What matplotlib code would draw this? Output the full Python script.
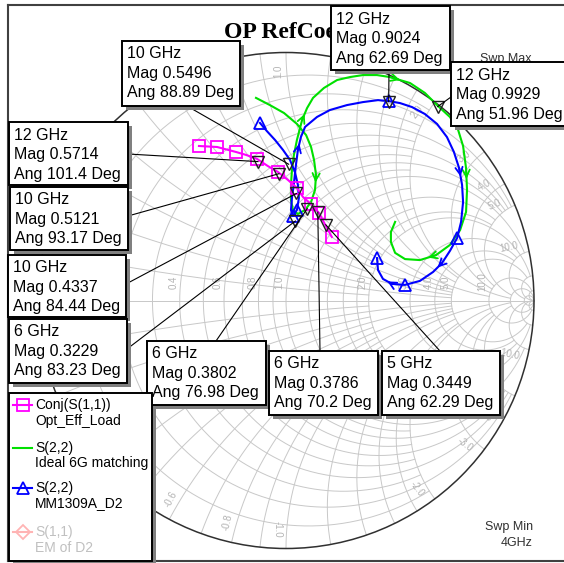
import numpy as np
import matplotlib
matplotlib.use('Agg')
import matplotlib.pyplot as plt
from matplotlib.patches import Rectangle, Circle

# ---------------- data (reflection coefficients) ----------------
green_re = [-0.121, -0.065, -0.008, 0.044, 0.081, 0.101, 0.113, 0.121, 0.117, 0.101,
            0.077, 0.048, 0.028, 0.020, 0.020, 0.024, 0.032, 0.044, 0.065, 0.085,
            0.109, 0.153, 0.206, 0.258, 0.310, 0.367, 0.419, 0.500, 0.560, 0.613,
            0.661, 0.694, 0.714, 0.726, 0.730, 0.726, 0.702, 0.661, 0.605, 0.540,
            0.480, 0.440, 0.423, 0.423, 0.440]
green_im = [0.817, 0.788, 0.756, 0.712, 0.667, 0.619, 0.567, 0.506, 0.446, 0.397,
            0.365, 0.349, 0.365, 0.405, 0.466, 0.526, 0.587, 0.647, 0.728, 0.776,
            0.817, 0.857, 0.889, 0.901, 0.909, 0.909, 0.901, 0.877, 0.837, 0.784,
            0.740, 0.688, 0.623, 0.534, 0.446, 0.357, 0.284, 0.224, 0.183, 0.163,
            0.167, 0.192, 0.236, 0.276, 0.317]
green_arrows = [7, 18, 26, 33, 38]

blue_re = [-0.105, -0.077, -0.044, -0.012, 0.016, 0.036, 0.048, 0.052, 0.044, 0.028,
           0.020, 0.024, 0.032, 0.040, 0.048, 0.060, 0.077, 0.125, 0.177, 0.246,
           0.310, 0.371, 0.415, 0.460, 0.508, 0.560, 0.609, 0.649, 0.677, 0.698,
           0.710, 0.714, 0.706, 0.690, 0.661, 0.629, 0.593, 0.540, 0.480, 0.427,
           0.391, 0.371, 0.367]
blue_im = [0.716, 0.683, 0.647, 0.607, 0.567, 0.518, 0.466, 0.413, 0.365, 0.341,
           0.365, 0.413, 0.474, 0.546, 0.607, 0.659, 0.700, 0.740, 0.768, 0.788,
           0.800, 0.808, 0.804, 0.796, 0.780, 0.752, 0.712, 0.659, 0.599, 0.534,
           0.466, 0.397, 0.317, 0.252, 0.200, 0.151, 0.115, 0.079, 0.063, 0.067,
           0.087, 0.123, 0.171]
blue_markers = [0, 8, 9, 22, 33, 38, 42]
blue_arrows = [14, 29, 35, 39]

mag_re = [0.185, 0.161, 0.133, 0.101, 0.069, 0.044, 0.008, -0.032, -0.073, -0.117,
          -0.161, -0.202, -0.278, -0.351]
mag_im = [0.256, 0.300, 0.353, 0.389, 0.417, 0.454, 0.486, 0.518, 0.542, 0.571,
          0.587, 0.599, 0.619, 0.623]
mag_markers = [0, 2, 3, 5, 7, 9, 11, 12, 13]

mk_freq = ['10 GHz', '12 GHz', '12 GHz', '12 GHz', '10 GHz', '10 GHz', '6 GHz', '6 GHz', '6 GHz', '5 GHz']
mk_mag = [0.5496, 0.9024, 0.9929, 0.5714, 0.5121, 0.4337, 0.3229, 0.3802, 0.3786, 0.3449]
mk_ang = [88.89, 62.69, 51.96, 101.4, 93.17, 84.44, 83.23, 76.98, 70.2, 62.29]

grid_vals = [0.1, 0.2, 0.3, 0.4, 0.5, 0.6, 0.7, 0.8, 0.9, 1.0, 1.2, 1.4, 1.6, 1.8,
             2.0, 3.0, 4.0, 5.0, 10.0, 20.0, 50.0]
grid_lims = [2, 5, 2, 5, 2, 5, 2, 5, 2, 10, 2, 5, 2, 5, 20, 10, 10, 20, 50, 1e4, 1e4]
label_vals = [0.2, 0.4, 0.6, 0.8, 1.0, 2.0, 3.0, 4.0, 5.0, 10.0]

leg_names = ['Conj(S(1,1))', 'S(2,2)', 'S(2,2)', 'S(1,1)']
leg_subs = ['Opt_Eff_Load', 'Ideal 6G matching', 'MM1309A_D2', 'EM of D2']

# ---------------- layout ----------------
W, H, DPI = 564, 563, 100
CX, CY, RAD = 286.0, 300.5, 248.0
GRID_C = '#c8c8c8'
SANS = 'Liberation Sans'

fig = plt.figure(figsize=(W / DPI, H / DPI), dpi=DPI)
fig.patch.set_facecolor('white')
ax = fig.add_axes([0, 0, 1, 1])
ax.set_xlim(-CX / RAD, (W - CX) / RAD)
ax.set_ylim(-(H - CY) / RAD, CY / RAD)
ax.axis('off')

ov = fig.add_axes([0, 0, 1, 1], zorder=5)
ov.set_xlim(0, W)
ov.set_ylim(H, 0)
ov.axis('off')
ov.patch.set_alpha(0)


def g2px(gr, gi):
    return CX + gr * RAD, CY - gi * RAD


def gam(z):
    return (z - 1) / (z + 1)


# ---------------- Smith grid ----------------
for v, lim in zip(grid_vals, grid_lims):
    t = np.linspace(-np.arctan(lim), np.arctan(lim), 400)
    g = gam(v + 1j * np.tan(t))
    ax.plot(g.real, g.imag, color=GRID_C, lw=0.7, zorder=1)
    t2 = np.linspace(0, np.arctan(lim), 400)
    for s in (1, -1):
        g = gam(np.tan(t2) + 1j * s * v)
        ax.plot(g.real, g.imag, color=GRID_C, lw=0.7, zorder=1)
ax.plot([-1, 1], [0, 0], color=GRID_C, lw=0.7, zorder=1)
ax.add_patch(Circle((0, 0), 1, fill=False, ec='#303030', lw=1.1, zorder=2))

for v in label_vals:
    gx = (v - 1) / (v + 1)
    ax.text(gx - 0.025, 0.075, f'{v:.1f}', rotation=90, fontsize=7, color='#b4b4b4',
            ha='center', va='center', family=SANS, zorder=1)
    for s in (1, -1):
        g = gam(1j * s * v)
        th = np.angle(g)
        thl = th + s * 0.035
        rot = np.degrees(th)
        if rot > 90:
            rot -= 180
        if rot < -90:
            rot += 180
        ax.text(0.925 * np.cos(thl), 0.925 * np.sin(thl), f'{s * v:.1f}', rotation=rot,
                fontsize=7, color='#b4b4b4', ha='center', va='center', family=SANS,
                rotation_mode='anchor', zorder=1)

# ---------------- traces ----------------
GREEN, BLUE, MAGENTA = '#00e000', '#0000ff', '#ff00ff'


def arrows(re, im, idx, color):
    for i in idx:
        x0, y0 = re[i], im[i]
        x1, y1 = (re[i] + re[i + 1]) / 2, (im[i] + im[i + 1]) / 2
        ax.annotate('', xy=(x1, y1), xytext=(x0, y0),
                    arrowprops=dict(arrowstyle='->', color=color, lw=1.3,
                                    mutation_scale=13, shrinkA=0, shrinkB=0), zorder=4)


ax.plot(green_re, green_im, color=GREEN, lw=1.5, zorder=3)
arrows(green_re, green_im, green_arrows, GREEN)
ax.plot(blue_re, blue_im, color=BLUE, lw=1.5, marker='^', markevery=blue_markers,
        ms=9, mfc='none', mec=BLUE, mew=1.3, zorder=4)
arrows(blue_re, blue_im, blue_arrows, BLUE)
ax.plot(mag_re, mag_im, color=MAGENTA, lw=1.5, marker='s', markevery=mag_markers,
        ms=9, mfc='none', mec=MAGENTA, mew=1.3, zorder=4)

mk_re = [m * np.cos(np.radians(a)) for m, a in zip(mk_mag, mk_ang)]
mk_im = [m * np.sin(np.radians(a)) for m, a in zip(mk_mag, mk_ang)]
ax.plot(mk_re, mk_im, ls='none', marker='v', ms=8, mfc='none', mec='#202020', mew=1.0, zorder=6)

# ---------------- frame & title ----------------
FRAME_C = '#404040'
ov.plot([8, W], [5, 5], color=FRAME_C, lw=1.5, zorder=0)
ov.plot([8, 8], [5, 561], color=FRAME_C, lw=1.5, zorder=0)
ov.plot([8, W], [561, 561], color=FRAME_C, lw=1.5, zorder=0)
title = ov.text(224, 33, 'OP RefCoe', fontsize=17, fontweight='bold', family='Liberation Serif',
                ha='left', va='center', color='black', zorder=0)
clip = Rectangle((200, 10), 131, 50, transform=ov.transData, visible=False)
ov.add_patch(clip)
title.set_clip_path(clip)
ov.text(532, 59, 'Swp Max', fontsize=9, family=SANS, ha='right', va='center', color='#303030', zorder=0)
ov.text(533, 527, 'Swp Min', fontsize=9, family=SANS, ha='right', va='center', color='#303030', zorder=0)
ov.text(533, 543, '4GHz', fontsize=9, family=SANS, ha='right', va='center', color='#303030', zorder=0)

# ---------------- marker boxes ----------------
box_geo = [(122, 41, 118, 65), (331, 6, 119, 64), (451, 62, 125, 64), (9, 122, 119, 63),
           (10, 187, 118, 63), (8, 255, 118, 62), (9, 319, 118, 64), (147, 341, 119, 64),
           (269, 351, 109, 64), (382, 351, 118, 64)]
box_anchor = [(187, 106), (389, 70), (451, 97), (128, 154), (128, 216), (126, 284),
              (127, 349), (216, 341), (320, 351), (440, 351)]


def box(x, y, w, h, z=3):
    ov.add_patch(Rectangle((x + 4, y + 4), w, h, fc='#808080', ec='none', zorder=z))
    ov.add_patch(Rectangle((x, y), w, h, fc='white', ec='black', lw=1.4, zorder=z + 0.1))


for i in range(len(mk_freq)):
    px, py = g2px(mk_re[i], mk_im[i])
    ax_, ay_ = box_anchor[i]
    ov.plot([ax_, px], [ay_, py], color='black', lw=0.8, zorder=1)
    x, y, w, h = box_geo[i]
    box(x, y, w, h)
    lines = [mk_freq[i], f'Mag {mk_mag[i]}', f'Ang {mk_ang[i]} Deg']
    for k, s in enumerate(lines):
        ov.text(x + 5, y + 13 + 19.5 * k, s, fontsize=11.5, family=SANS, ha='left',
                va='center', color='black', zorder=3.5)

# ---------------- legend ----------------
box(9, 393, 143, 168)
leg_y = [405, 448, 488, 532]
leg_cols = [MAGENTA, GREEN, BLUE, '#ffb4b4']
leg_mk = ['s', None, '^', 'D']
leg_tc = ['black', 'black', 'black', '#c0c0c0']
for k in range(4):
    y = leg_y[k]
    ov.plot([13, 32], [y, y], color=leg_cols[k], lw=1.5, zorder=4)
    if leg_mk[k]:
        ov.plot([22.5], [y], marker=leg_mk[k], ms=8 if leg_mk[k] != 'D' else 7,
                mfc='none', mec=leg_cols[k], mew=1.3, zorder=4)
    ov.text(35, y, leg_names[k], fontsize=10, family=SANS, ha='left', va='center',
            color=leg_tc[k], zorder=4)
    ov.text(35, y + 15.5, leg_subs[k], fontsize=10, family=SANS, ha='left', va='center',
            color=leg_tc[k], zorder=4)

fig.savefig('out.png', dpi=DPI, facecolor='white')
